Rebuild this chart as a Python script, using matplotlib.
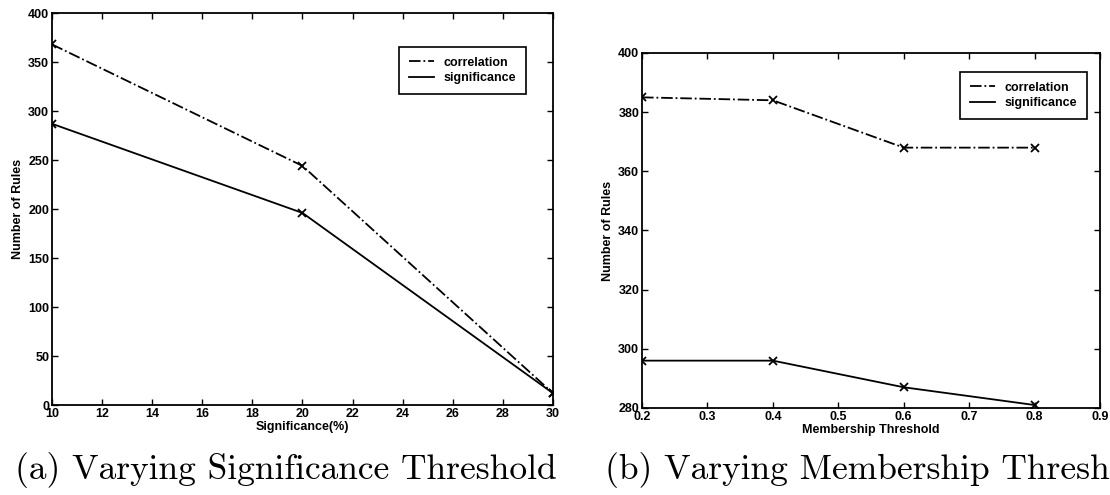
import numpy as np
import matplotlib.pyplot as plt

# данные для (a)
sig_x = [10, 20, 30]
sig_corr = [368, 244, 12]
sig_sign = [287, 196, 12]

# данные для (b)
mem_x = [0.2, 0.4, 0.6, 0.8]
mem_corr = [385, 384, 368, 368]
mem_sign = [296, 296, 287, 281]

labels = ["correlation", "significance"]
tick_font = dict(family="Liberation Sans", size=9, weight="bold")


def style_axes(ax):
    ax.tick_params(direction="in", top=True, right=True, length=4, width=1,
                   pad=2, labelsize=9)
    for lab in ax.get_xticklabels() + ax.get_yticklabels():
        lab.set_fontfamily("Liberation Sans")
        lab.set_fontweight("bold")
    for sp in ax.spines.values():
        sp.set_linewidth(1.3)


def draw(ax, x, corr, sign, legend_pos):
    ax.plot(x, corr, "-.", color="k", lw=1.3, label=labels[0])
    ax.plot(x, sign, "-", color="k", lw=1.3, label=labels[1])
    ax.plot(x, corr, "x", color="k", ms=6, mew=1.3)
    ax.plot(x, sign, "x", color="k", ms=6, mew=1.3)
    leg = ax.legend(loc="upper left", bbox_to_anchor=legend_pos,
                    prop=dict(family="Liberation Sans", size=9, weight="bold"),
                    fancybox=False, edgecolor="k", framealpha=1,
                    handlelength=2.0, borderpad=0.8, labelspacing=0.3)
    leg.get_frame().set_linewidth(1.2)


fig = plt.figure(figsize=(11.1, 4.95), dpi=100)

ax1 = fig.add_axes([0.0468, 0.1818, 0.4514, 0.7919])
draw(ax1, sig_x, sig_corr, sig_sign, (0.68, 0.93))
ax1.set_xlim(10, 30)
ax1.set_ylim(0, 400)
ax1.set_xticks(np.arange(10, 31, 2))
ax1.set_yticks(np.arange(0, 401, 50))
ax1.set_xlabel("Significance(%)", fontdict=tick_font, labelpad=1)
ax1.set_ylabel("Number of Rules", fontdict=tick_font, labelpad=3)
style_axes(ax1)

ax2 = fig.add_axes([0.5784, 0.1758, 0.4126, 0.7172])
draw(ax2, mem_x, mem_corr, mem_sign, (0.68, 0.965))
ax2.set_xlim(0.2, 0.9)
ax2.set_ylim(280, 400)
ax2.set_xticks(np.arange(0.2, 0.91, 0.1))
ax2.set_xticklabels([f"{v:.1f}" for v in np.arange(0.2, 0.91, 0.1)])
ax2.set_yticks(np.arange(280, 401, 20))
ax2.set_xlabel("Membership Threshold", fontdict=tick_font, labelpad=1)
ax2.set_ylabel("Number of Rules", fontdict=tick_font, labelpad=3)
style_axes(ax2)

# подписи как в статье, правая обрезана краем картинки
fig.text(0.0135, 1 - 470 / 495, "(a) Varying Significance Threshold",
         family="cmr10", fontsize=25.5, va="center", ha="left")
fig.text(0.545, 1 - 470 / 495, "(b) Varying Membership Threshold",
         family="cmr10", fontsize=25.5, va="center", ha="left")

fig.savefig("out.png", dpi=100)
